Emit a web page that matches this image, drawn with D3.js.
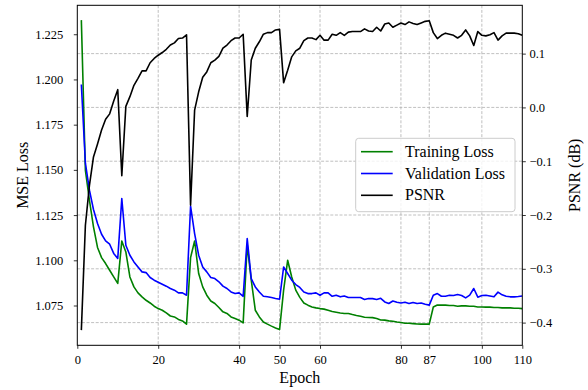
<!DOCTYPE html>
<html>
<head>
<meta charset="utf-8">
<script src="https://cdn.jsdelivr.net/npm/d3@7"></script>
<style>
  body { margin: 0; background: #fff; }
  text { font-family: "Liberation Serif", "DejaVu Serif", serif; fill: #000; }
</style>
</head>
<body>
<script>
//chart values
var epochs = d3.range(1, 111);

var trainLoss = [1.2328,1.1497,1.1332,1.1185,1.1071,1.1015,1.0982,1.0945,1.0908,1.0872,
    1.1107,1.1046,1.0908,1.0853,1.0820,1.0798,1.0779,1.0764,1.0746,1.0733,
    1.0724,1.0709,1.0692,1.0687,1.0673,1.0665,1.0647,1.1015,1.1107,1.0927,
    1.0853,1.0807,1.0775,1.0761,1.0739,1.0715,1.0706,1.0687,1.0678,1.0669,
    1.0654,1.1085,1.0890,1.0724,1.0687,1.0659,1.0647,1.0636,1.0626,1.0617,
    1.0835,1.1000,1.0908,1.0835,1.0795,1.0764,1.0752,1.0742,1.0737,1.0733,
    1.0730,1.0724,1.0717,1.0713,1.0709,1.0706,1.0706,1.0700,1.0695,1.0691,
    1.0685,1.0684,1.0683,1.0678,1.0670,1.0669,1.0665,1.0663,1.0659,1.0656,
    1.0652,1.0652,1.0650,1.0648,1.0647,1.0647,1.0647,1.0742,1.0753,1.0752,
    1.0752,1.0750,1.0750,1.0746,1.0748,1.0748,1.0746,1.0746,1.0742,1.0742,
    1.0741,1.0741,1.0739,1.0739,1.0737,1.0737,1.0737,1.0735,1.0735,1.0733];

var valLoss = [1.1972,1.1537,1.1388,1.1281,1.1203,1.1144,1.1107,1.1089,1.1038,1.1010,
    1.1342,1.1083,1.1028,1.0991,1.0963,1.0936,1.0932,1.0905,1.0890,1.0879,
    1.0868,1.0857,1.0844,1.0835,1.0820,1.0820,1.0807,1.1299,1.1148,1.1028,
    1.0963,1.0936,1.0905,1.0899,1.0881,1.0857,1.0844,1.0825,1.0816,1.0820,
    1.0801,1.1120,1.0899,1.0853,1.0825,1.0801,1.0798,1.0794,1.0789,1.0785,
    1.0963,1.0927,1.0890,1.0866,1.0850,1.0825,1.0816,1.0816,1.0820,1.0807,
    1.0820,1.0820,1.0801,1.0807,1.0798,1.0803,1.0794,1.0794,1.0794,1.0794,
    1.0783,1.0789,1.0788,1.0783,1.0790,1.0770,1.0761,1.0775,1.0768,1.0764,
    1.0768,1.0761,1.0767,1.0761,1.0764,1.0757,1.0752,1.0807,1.0816,1.0801,
    1.0801,1.0807,1.0805,1.0811,1.0805,1.0792,1.0807,1.0844,1.0796,1.0805,
    1.0807,1.0803,1.0798,1.0824,1.0809,1.0801,1.0798,1.0798,1.0800,1.0803];

var psnr = [-0.414,-0.219,-0.145,-0.092,-0.068,-0.042,-0.022,-0.012,0.012,0.033,
    -0.127,0.002,0.020,0.041,0.054,0.068,0.068,0.083,0.091,0.097,
    0.102,0.108,0.116,0.120,0.128,0.129,0.135,-0.182,-0.005,0.029,
    0.056,0.066,0.083,0.088,0.095,0.110,0.116,0.124,0.129,0.129,
    0.136,-0.017,0.088,0.110,0.122,0.136,0.139,0.139,0.144,0.145,
    0.046,0.069,0.094,0.105,0.110,0.124,0.129,0.129,0.126,0.134,
    0.125,0.125,0.136,0.134,0.139,0.134,0.140,0.141,0.141,0.141,
    0.146,0.142,0.141,0.149,0.142,0.155,0.157,0.149,0.153,0.157,
    0.154,0.159,0.156,0.154,0.157,0.160,0.161,0.139,0.128,0.134,
    0.138,0.136,0.134,0.129,0.134,0.144,0.133,0.115,0.141,0.134,
    0.133,0.135,0.139,0.125,0.133,0.138,0.138,0.138,0.137,0.134];

var xTicks = [0, 20, 40, 50, 60, 80, 87, 100, 110];
var lossTicks = [1.075, 1.100, 1.125, 1.150, 1.175, 1.200, 1.225];
var psnrTicks = [-0.4, -0.3, -0.2, -0.1, 0.0, 0.1];

var seriesNames = ["Training Loss", "Validation Loss", "PSNR"];
var seriesColors = ["green", "blue", "black"];

//draw the chart
(function(){
    var width = 588, height = 390;
    var left = 77.3, top = 5.3, w = 445, h = 340;
    var serif = "'Liberation Serif', 'DejaVu Serif', serif";

    var svg = d3.select("body").append("svg")
        .attr("width", width)
        .attr("height", height);

    var g = svg.append("g")
        .attr("transform", "translate(" + left + "," + top + ")");

    var x = d3.scaleLinear().domain([0, 110]).range([0, w]);
    var yLoss = d3.scaleLinear().domain([1.0530, 1.2410]).range([h, 0]);
    var yPsnr = d3.scaleLinear().domain([-0.4422, 0.1898]).range([h, 0]);

    //grid: vertical from x ticks, horizontal from psnr ticks
    var grid = g.append("g").attr("class", "grid");
    grid.selectAll(".vgrid")
        .data(xTicks.filter(function(d){ return d > 0 && d < 110; }))
        .enter().append("line")
        .attr("x1", function(d){ return x(d); })
        .attr("x2", function(d){ return x(d); })
        .attr("y1", 0).attr("y2", h);
    grid.selectAll(".hgrid")
        .data(psnrTicks)
        .enter().append("line")
        .attr("x1", 0).attr("x2", w)
        .attr("y1", function(d){ return yPsnr(d); })
        .attr("y2", function(d){ return yPsnr(d); });
    grid.selectAll("line")
        .attr("stroke", "#b0b0b0")
        .attr("stroke-width", 0.8)
        .attr("stroke-dasharray", "3,1.6");

    //lines
    var lossLine = function(vals){
        return d3.line()
            .x(function(d, i){ return x(epochs[i]); })
            .y(function(d){ return yLoss(d); })(vals);
    };
    var psnrLine = d3.line()
        .x(function(d, i){ return x(epochs[i]); })
        .y(function(d){ return yPsnr(d); });

    svg.append("clipPath").attr("id", "plotclip")
        .append("rect").attr("width", w).attr("height", h);
    var lines = g.append("g").attr("clip-path", "url(#plotclip)");

    lines.append("path").attr("d", lossLine(trainLoss))
        .attr("fill", "none").attr("stroke", seriesColors[0]).attr("stroke-width", 1.6)
        .attr("stroke-linejoin", "round");
    lines.append("path").attr("d", lossLine(valLoss))
        .attr("fill", "none").attr("stroke", seriesColors[1]).attr("stroke-width", 1.6)
        .attr("stroke-linejoin", "round");
    lines.append("path").attr("d", psnrLine(psnr))
        .attr("fill", "none").attr("stroke", seriesColors[2]).attr("stroke-width", 1.6)
        .attr("stroke-linejoin", "round");

    //axes
    var xAxis = g.append("g")
        .attr("transform", "translate(0," + h + ")")
        .call(d3.axisBottom(x).tickValues(xTicks).tickFormat(d3.format("d"))
            .tickSize(3.5).tickPadding(6.3));
    var yAxisL = g.append("g")
        .call(d3.axisLeft(yLoss).tickValues(lossTicks).tickFormat(d3.format(".3f"))
            .tickSize(3.5).tickPadding(10.5));
    var yAxisR = g.append("g")
        .attr("transform", "translate(" + w + ",0)")
        .call(d3.axisRight(yPsnr).tickValues(psnrTicks).tickFormat(d3.format(".1f"))
            .tickSize(3.5).tickPadding(3.7));

    [xAxis, yAxisL, yAxisR].forEach(function(a){
        a.attr("font-family", serif);
        a.selectAll(".domain").remove();
        a.selectAll("text")
            .style("font-family", serif)
            .style("font-size", "12.5px")
            .attr("fill", "#000");
        a.selectAll("line").attr("stroke", "#000").attr("stroke-width", 0.8);
    });

    //frame
    g.append("rect")
        .attr("width", w).attr("height", h)
        .attr("fill", "none").attr("stroke", "#000").attr("stroke-width", 1);

    //axis labels
    svg.append("text")
        .attr("x", left + w / 2).attr("y", 382.7)
        .attr("text-anchor", "middle")
        .style("font-size", "16px")
        .text("Epoch");
    svg.append("text")
        .attr("transform", "translate(28.3," + (top + h / 2) + ") rotate(-90)")
        .attr("text-anchor", "middle")
        .style("font-size", "16px")
        .text("MSE Loss");
    svg.append("text")
        .attr("transform", "translate(579.5," + (top + h / 2) + ") rotate(-90)")
        .attr("text-anchor", "middle")
        .style("font-size", "16px")
        .text("PSNR (dB)");

    //legend
    var legend = svg.append("g").attr("transform", "translate(355.7,138.3)");
    legend.append("rect")
        .attr("width", 159.3).attr("height", 73.4)
        .attr("rx", 3)
        .attr("fill", "#fff").attr("fill-opacity", 0.8)
        .attr("stroke", "#cccccc").attr("stroke-width", 1);
    var items = legend.selectAll(".item")
        .data(seriesNames)
        .enter().append("g")
        .attr("transform", function(d, i){ return "translate(0," + (13.4 + i * 21.8) + ")"; });
    items.append("line")
        .attr("x1", 5.3).attr("x2", 37)
        .attr("stroke", function(d, i){ return seriesColors[i]; })
        .attr("stroke-width", 1.6);
    items.append("text")
        .attr("x", 49.3).attr("y", 5)
        .style("font-size", "16px")
        .text(function(d){ return d; });
})();
</script>
</body>
</html>
